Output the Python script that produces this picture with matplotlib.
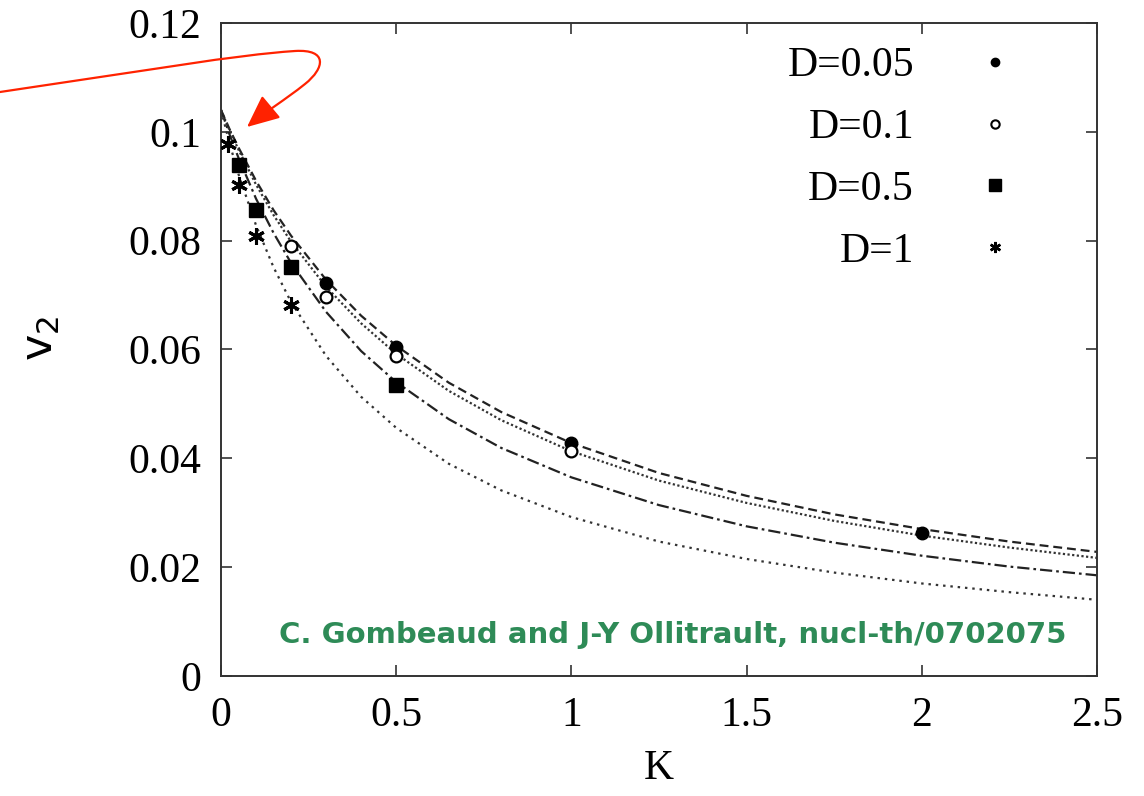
import matplotlib.pyplot as plt
from matplotlib.patches import FancyArrowPatch
from matplotlib.path import Path

# fitted curves
k_curve = [0, 0.025, 0.05, 0.1, 0.15, 0.2, 0.3, 0.4, 0.5, 0.65, 0.8, 1.0,
           1.25, 1.5, 1.75, 2.0, 2.25, 2.5]
v_d005 = [0.1040, 0.1004, 0.0971, 0.0910, 0.0856, 0.0809, 0.0728, 0.0662, 0.0607,
          0.0539, 0.0485, 0.0428, 0.0373, 0.0331, 0.0297, 0.0270, 0.0247, 0.0228]
v_d01 = [0.1040, 0.1002, 0.0967, 0.0903, 0.0847, 0.0798, 0.0715, 0.0648, 0.0592,
         0.0524, 0.0470, 0.0413, 0.0359, 0.0318, 0.0285, 0.0258, 0.0236, 0.0217]
v_d05 = [0.1040, 0.0994, 0.0952, 0.0877, 0.0814, 0.0759, 0.0669, 0.0597, 0.0540,
         0.0472, 0.0419, 0.0365, 0.0314, 0.0275, 0.0245, 0.0221, 0.0201, 0.0185]
v_d1 = [0.1040, 0.0977, 0.0922, 0.0828, 0.0751, 0.0687, 0.0588, 0.0513, 0.0456,
        0.0390, 0.0341, 0.0292, 0.0247, 0.0215, 0.0190, 0.0170, 0.0154, 0.0140]

# simulation points
k_p005 = [0.3, 0.5, 1.0, 2.0]
v_p005 = [0.0722, 0.0604, 0.0428, 0.0262]
k_p01 = [0.2, 0.3, 0.5, 1.0]
v_p01 = [0.0790, 0.0697, 0.0588, 0.0414]
k_p05 = [0.05, 0.1, 0.2, 0.5]
v_p05 = [0.0939, 0.0856, 0.0752, 0.0534]
k_p1 = [0.02, 0.05, 0.1, 0.2]
v_p1 = [0.0978, 0.0903, 0.0809, 0.0681]

labels = ["D=0.05", "D=0.1", "D=0.5", "D=1"]

plt.rcParams['font.family'] = ['Liberation Serif', 'DejaVu Serif']

fig = plt.figure(figsize=(11.44, 7.96), dpi=100)
ax = fig.add_axes([0.1932, 0.1508, 0.7657, 0.8203])

lw = 1.6
ax.plot(k_curve, v_d005, color='#222222', lw=lw, ls=(0, (4, 2.2)))
ax.plot(k_curve, v_d01, color='#333333', lw=lw, ls=(0, (1, 1.1)))
ax.plot(k_curve, v_d05, color='#222222', lw=lw, ls=(0, (5.5, 1.8, 1.2, 1.8)))
ax.plot(k_curve, v_d1, color='#333333', lw=lw, ls=(0, (1.1, 2.2)))

ax.plot(k_p005, v_p005, 'o', color='black', ms=9, zorder=5)
ax.plot(k_p01, v_p01, 'o', mfc='white', mec='black', mew=1.6, ms=8.5, zorder=5)
ax.plot(k_p05, v_p05, 's', color='black', ms=10, zorder=5)
ax.plot(k_p1, v_p1, marker=(6, 2, 0), ls='none', color='black', mew=2.2, ms=12, zorder=5)

# legend shows small markers only
h1, = ax.plot([], [], 'o', color='black', ms=6)
h2, = ax.plot([], [], 'o', mfc='white', mec='black', mew=1.5, ms=6)
h3, = ax.plot([], [], 's', color='black', ms=8)
h4, = ax.plot([], [], marker=(6, 2, 0), ls='none', color='black', mew=1.8, ms=8)
ax.legend([h1, h2, h3, h4], labels, loc='upper right', frameon=False,
          bbox_to_anchor=(0.988, 1.04),
          markerfirst=False, fontsize=30, handlelength=2, handletextpad=0.94,
          labelspacing=0.56, borderaxespad=0.9, borderpad=0.3)

ax.set_xlim(0, 2.5)
ax.set_ylim(0, 0.12)
ax.set_xticks([0, 0.5, 1, 1.5, 2, 2.5])
ax.set_xticklabels(["0", "0.5", "1", "1.5", "2", "2.5"])
ax.set_yticks([0, 0.02, 0.04, 0.06, 0.08, 0.1, 0.12])
ax.set_yticklabels(["0", "0.02", "0.04", "0.06", "0.08", "0.1", "0.12"])
ax.tick_params(direction='in', length=8, width=1.2, top=True, right=True,
               labelsize=30, color='#333333')
ax.tick_params(axis='x', pad=15)
ax.tick_params(axis='y', pad=14)
for sp in ax.spines.values():
    sp.set_color('#333333')
    sp.set_linewidth(1.4)

ax.set_xlabel("K", fontsize=30, labelpad=10)
fig.text(0.035, 0.575, r"$\mathregular{v_2}$", rotation=90, fontsize=32,
         family='DejaVu Sans', ha='center', va='center')

ax.text(1.29, 0.0075, "C. Gombeaud and J-Y Ollitrault, nucl-th/0702075",
        color='#2e8b57', fontsize=21, fontweight='bold', family='DejaVu Sans',
        ha='center', va='center')

# red curved arrow annotation (figure pixel coordinates, y from top)
H = 796.0
pts = [(0, 92), (150, 70), (235, 55), (295, 51),
       (328, 49), (325, 68), (305, 84),
       (285, 100), (265, 112), (247, 127)]
verts = [(x / 1144.0, (H - y) / H) for x, y in pts]
codes = [Path.MOVETO] + [Path.CURVE4] * 9
arrow = FancyArrowPatch(path=Path(verts, codes), transform=fig.transFigure,
                        arrowstyle='-|>,head_length=20,head_width=9',
                        color='#ff2200', lw=1.6, mutation_scale=1)
fig.patches.append(arrow)

fig.savefig("out.png", dpi=100)
